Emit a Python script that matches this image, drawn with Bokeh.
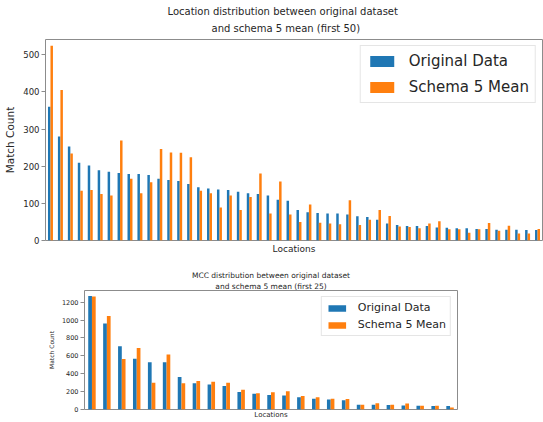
from bokeh.plotting import figure
from bokeh.models import ColumnDataSource, Range1d, FixedTicker, Title, Legend, LegendItem
from bokeh.transform import dodge
from bokeh.embed import file_html
from bokeh.resources import INLINE

# ---- data: top chart (first 50 locations) ----
rank50 = list(range(50))
orig50 = [360, 280, 253, 209, 202, 189, 185, 182, 179, 179, 176, 166, 163, 160, 152,
          143, 140, 137, 136, 131, 127, 125, 121, 110, 107, 82, 76, 74, 73, 73,
          70, 65, 63, 56, 46, 42, 39, 39, 39, 35, 34, 33, 33, 31, 31, 29, 29, 29, 28, 28]
mean50 = [524, 405, 234, 134, 136, 125, 121, 269, 166, 127, 157, 246, 237, 236, 224,
          134, 127, 89, 121, 82, 117, 180, 73, 159, 70, 50, 97, 48, 46, 44,
          108, 42, 56, 82, 66, 38, 36, 33, 46, 52, 30, 30, 21, 30, 47, 26, 40, 19, 19, 31]
ticks50 = [0, 100, 200, 300, 400, 500]

# ---- data: bottom chart (first 25 MCC) ----
rank25 = list(range(25))
orig25 = [1268, 961, 707, 568, 529, 529, 364, 293, 279, 264, 196, 175, 161, 157, 136,
          121, 111, 104, 54, 54, 50, 46, 43, 39, 39]
mean25 = [1264, 1046, 564, 686, 300, 614, 293, 318, 311, 300, 221, 182, 193, 204, 150,
          136, 121, 118, 54, 71, 54, 68, 43, 43, 21]
ticks25 = [0, 200, 400, 600, 800, 1000, 1200]

BLUE = "#1f77b4"
ORANGE = "#ff7f0e"
FONT = "DejaVu Sans"
TXT = "#262626"
SPINE = "#8c8c8c"


def make_chart(xs, orig, mean, ticks, ymax, lines, sizes, geom, legend_geom, xlab_standoff):
    (w, h, bl, br, bt, bb) = geom
    (title_fs, tick_fs, ylab_fs, xlab_fs, leg_fs) = sizes
    p = figure(width=w, height=h, min_border_left=bl, min_border_right=br,
               min_border_top=bt, min_border_bottom=bb, output_backend="svg",
               toolbar_location=None, title=None,
               x_range=Range1d(-0.5, len(xs) - 0.5), y_range=Range1d(0, ymax))
    src = ColumnDataSource(dict(x=xs, orig=orig, mean=mean))
    r1 = p.vbar(x=dodge("x", -0.125), top="orig", width=0.25, bottom=0, source=src,
                fill_color=BLUE, line_color=None)
    r2 = p.vbar(x=dodge("x", 0.125), top="mean", width=0.25, bottom=0, source=src,
                fill_color=ORANGE, line_color=None)

    for text, al, off, so in lines:
        t = Title(text=text, align=al, offset=off, text_font=FONT, text_font_size=title_fs,
                  text_font_style="normal", text_color=TXT, standoff=so)
        p.add_layout(t, "above")

    p.xgrid.visible = False
    p.ygrid.visible = False
    p.outline_line_color = SPINE
    p.outline_line_width = 1

    xa = p.xaxis[0]
    xa.ticker = FixedTicker(ticks=[])
    xa.axis_line_color = None
    xa.major_tick_line_color = None
    xa.minor_tick_line_color = None
    xa.major_tick_out = 0
    xa.major_label_standoff = 0
    xa.axis_label = "Locations"
    xa.axis_label_text_font = FONT
    xa.axis_label_text_font_size = xlab_fs
    xa.axis_label_text_font_style = "normal"
    xa.axis_label_text_color = TXT
    xa.axis_label_standoff = xlab_standoff

    ya = p.yaxis[0]
    ya.ticker = FixedTicker(ticks=ticks)
    ya.axis_line_color = None
    ya.major_tick_line_color = SPINE
    ya.minor_tick_line_color = None
    ya.major_tick_out = 4
    ya.major_tick_in = 0
    ya.major_label_standoff = 2
    ya.major_label_text_font = FONT
    ya.major_label_text_font_size = tick_fs
    ya.major_label_text_color = TXT
    ya.axis_label = "Match Count"
    ya.axis_label_text_font = FONT
    ya.axis_label_text_font_size = ylab_fs
    ya.axis_label_text_font_style = "normal"
    ya.axis_label_text_color = TXT
    ya.axis_label_standoff = 4

    (gw, gh, stand, pad, spacing, margin) = legend_geom
    leg = Legend(items=[LegendItem(label="Original Data", renderers=[r1]),
                        LegendItem(label="Schema 5 Mean", renderers=[r2])],
                 location="top_right", orientation="vertical",
                 glyph_width=gw, glyph_height=gh, label_height=gh,
                 label_standoff=stand, padding=pad, spacing=spacing, margin=margin,
                 label_text_font=FONT, label_text_font_size=leg_fs, label_text_color=TXT,
                 border_line_color="#cccccc", border_line_width=1,
                 background_fill_color="white", background_fill_alpha=0.8)
    p.add_layout(leg, "center")
    return p


p1 = make_chart(rank50, orig50, mean50, ticks50, 541,
                [("and schema 5 mean (first 50)", "left", 166, 11),
                 ("Location distribution between original dataset", "left", 122, -3)],
                ("10px", "8.5px", "10.5px", "9px", "15px"),
                (543, 258, 45, 1, 39, 18),
                (30, 14, 12, 6, 8, 6), 3)

p2 = make_chart(rank25, orig25, mean25, ticks25, 1330,
                [("and schema 5 mean (first 25)", "center", 0, 0),
                 ("MCC distribution between original dataset", "center", 0, 0)],
                ("7.5px", "6.5px", "6px", "7px", "11px"),
                (543, 163, 84, 86, 32, 9),
                (22, 8, 10, 4, 4, 6), 1)

open("out.html", "w").write(file_html([p1, p2], INLINE))
